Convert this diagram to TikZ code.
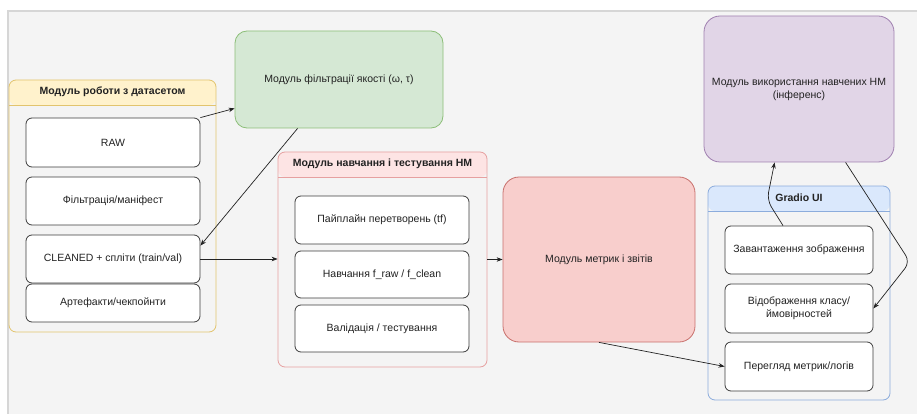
\documentclass[tikz,border=0pt]{standalone}
\usepackage{fontspec}
\setmainfont{Liberation Sans}
\usepackage{xcolor}
\usetikzlibrary{arrows.meta}
\usetikzlibrary{positioning}
\definecolor{canvasgray}{RGB}{244, 244, 244}
\definecolor{framegray}{RGB}{214, 214, 214}
\definecolor{textdark}{RGB}{34, 34, 34}
\definecolor{itemborder}{RGB}{60, 60, 60}
\definecolor{dsfill}{RGB}{255, 242, 204}
\definecolor{dsborder}{RGB}{226, 196, 110}
\definecolor{qfill}{RGB}{213, 232, 212}
\definecolor{qborder}{RGB}{140, 190, 120}
\definecolor{trfill}{RGB}{253, 228, 228}
\definecolor{trborder}{RGB}{230, 160, 160}
\definecolor{mfill}{RGB}{248, 206, 204}
\definecolor{mborder}{RGB}{200, 112, 108}
\definecolor{infill}{RGB}{225, 213, 231}
\definecolor{inborder}{RGB}{160, 128, 176}
\definecolor{uifill}{RGB}{218, 232, 252}
\definecolor{uiborder}{RGB}{140, 172, 220}

\tikzset{
    item/.style={draw=itemborder, fill=white, rounded corners=6pt, line width=0.8pt,
        align=center, text=textdark, font=\fontsize{10.5}{13}\selectfont},
    panel/.style={draw=#1, rounded corners=7pt, line width=0.8pt},
    header/.style 2 args={path picture={
        \fill[#1] (path picture bounding box.north west) rectangle ([yshift=-25pt]path picture bounding box.north east);
        \draw[#2, line width=0.8pt] ([yshift=-25pt]path picture bounding box.north west) -- ([yshift=-25pt]path picture bounding box.north east);
    }},
    head/.style={text=textdark, font=\bfseries\fontsize{10.5}{12}\selectfont},
    module/.style={rounded corners=16pt, line width=0.8pt, align=center, text=textdark,
        font=\fontsize{10.5}{13}\selectfont},
    link/.style={-{Stealth[length=6pt, width=4.5pt]}, line width=0.7pt, draw=textdark},
}

\begin{document}
\begin{tikzpicture}[x=1pt, y=-1pt]
    \useasboundingbox (0, 0) rectangle (917, 414);
    \fill[canvasgray] (8, 11) rectangle (917, 414);
    \draw[framegray, line width=1.5pt] (8, 414) -- (8, 11) -- (917, 11);

    % dataset module
    \node[panel=dsborder, header={dsfill}{dsborder}, minimum width=207pt, minimum height=252pt] (dataset) at (112.5, 206) {};
    \node[head] (dstitle) at ([yshift=-12.5pt]dataset.north) {Модуль роботи з датасетом};
    \node[item, minimum width=174pt, minimum height=49pt] (raw) at (113, 142.5) {RAW};
    \node[item, minimum width=174pt, minimum height=48pt] (manifest) at (113, 201) {Фільтрація/маніфест};
    \node[item, minimum width=174pt, minimum height=48pt] (cleaned) at (113, 259) {CLEANED + спліти (train/val)};
    \node[item, minimum width=174pt, minimum height=38pt] (artifacts) at (113, 303) {Артефакти/чекпойнти};

    % quality filter
    \node[module, rounded corners=12pt, draw=qborder, fill=qfill, minimum width=208pt, minimum height=97pt] (quality) at (339, 79.5) {Модуль фільтрації якості (ω, τ)};

    % training module
    \node[panel=trborder, header={trfill}{trborder}, minimum width=209pt, minimum height=215pt] (train) at (382.5, 259.5) {};
    \node[head] (trtitle) at ([yshift=-12.5pt]train.north) {Модуль навчання і тестування НМ};
    \node[item, minimum width=174pt, minimum height=48pt] (pipeline) at (382, 220) {Пайплайн перетворень (tf)};
    \node[item, minimum width=174pt, minimum height=47pt] (fit) at (382, 274.5) {Навчання f\_raw / f\_clean};
    \node[item, minimum width=174pt, minimum height=47pt] (valid) at (382, 328.5) {Валідація / тестування};

    % metrics and inference
    \node[module, draw=mborder, fill=mfill, minimum width=192pt, minimum height=165pt] (metrics) at (599, 259.5) {Модуль метрик і звітів};
    \node[module, draw=inborder, fill=infill, minimum width=190pt, minimum height=146pt] (infer) at (799, 89) {Модуль використання навчених НМ\\(інференс)};

    % gradio
    \node[panel=uiborder, header={uifill}{uiborder}, minimum width=182pt, minimum height=214pt] (gradio) at (799, 293) {};
    \node[head] (uititle) at ([yshift=-12.5pt]gradio.north) {Gradio UI};
    \node[item, minimum width=148pt, minimum height=48pt] (upload) at (799, 250) {Завантаження зображення};
    \node[item, minimum width=148pt, minimum height=49pt] (classes) at (799, 308.5) {Відображення класу/\\ймовірностей};
    \node[item, minimum width=148pt, minimum height=49pt] (logs) at (799, 366.5) {Перегляд метрик/логів};

    \coordinate (upbend) at (767, 200);
    \coordinate (downbend) at (910, 262);

    \draw[link] (raw.north east) -- ([yshift=20pt]quality.south west);
    \draw[link] ([xshift=63pt]quality.south west) -- ([yshift=-11pt]cleaned.north east);
    \draw[link] (cleaned.east) -- (cleaned.east -| train.west);
    \draw[link] (train.east) -- (metrics.west);
    \draw[link] (metrics.south) -- (logs.west);
    \draw[link, rounded corners=8pt] ([xshift=-16pt]upload.north) -- (upbend) -- ([xshift=71pt]infer.south west);
    \draw[link, rounded corners=8pt] ([xshift=142pt]infer.south west) -- (downbend) -- (classes.east);
\end{tikzpicture}
\end{document}
